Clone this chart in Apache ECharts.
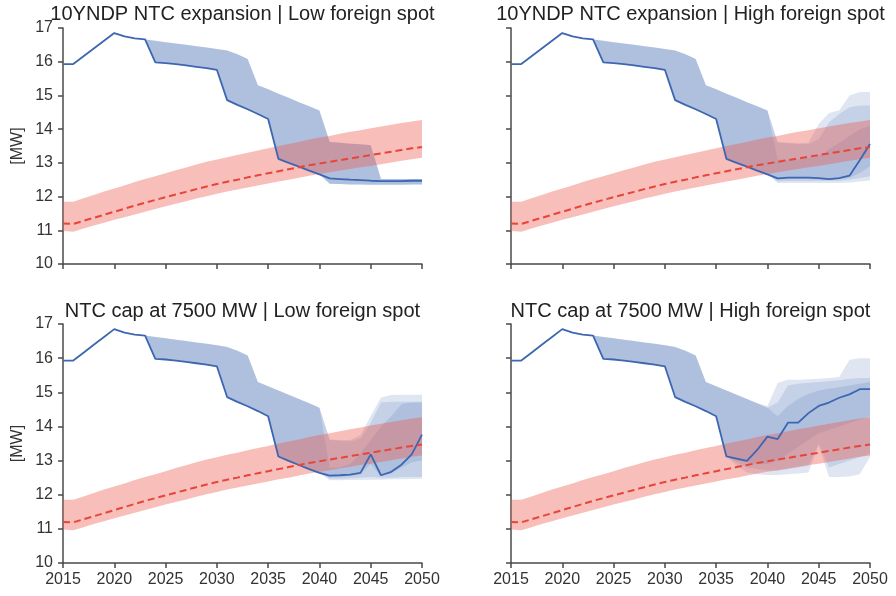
<!DOCTYPE html>
<html>
<head>
<meta charset="utf-8">
<script src="https://cdn.jsdelivr.net/npm/echarts@6/dist/echarts.min.js"></script>
<style>html,body{margin:0;padding:0;background:#fff}#c{width:896px;height:596px}</style>
</head>
<body>
<div id="c"></div>
<script>
// ---------- data ----------
const YEARS = [2015,2016,2017,2018,2019,2020,2021,2022,2023,2024,2025,2026,2027,2028,2029,2030,2031,2032,2033,2034,2035,2036,2037,2038,2039,2040,2041,2042,2043,2044,2045,2046,2047,2048,2049,2050];
const X_TICKS = [2015,2020,2025,2030,2035,2040,2045,2050];
const Y_TICKS = [10,11,12,13,14,15,16,17];
const TITLES = [
  '10YNDP NTC expansion | Low foreign spot',
  '10YNDP NTC expansion | High foreign spot',
  'NTC cap at 7500 MW | Low foreign spot',
  'NTC cap at 7500 MW | High foreign spot'
];

// reference (red) line and band, same in all panels
const RED_MID = [11.20,11.19,11.28,11.37,11.46,11.55,11.64,11.73,11.82,11.90,11.98,12.06,12.14,12.22,12.30,12.37,12.44,12.50,12.57,12.63,12.69,12.75,12.81,12.87,12.93,12.98,13.03,13.08,13.13,13.18,13.23,13.28,13.33,13.38,13.43,13.47];
const RED_UP  = [11.85,11.85,11.95,12.05,12.15,12.24,12.33,12.43,12.52,12.60,12.69,12.78,12.86,12.95,13.03,13.10,13.17,13.23,13.30,13.37,13.43,13.50,13.56,13.62,13.69,13.75,13.80,13.86,13.92,13.97,14.03,14.08,14.13,14.18,14.23,14.27];
const RED_LO  = [10.98,10.96,11.05,11.14,11.22,11.31,11.39,11.47,11.55,11.63,11.71,11.79,11.86,11.94,12.01,12.08,12.15,12.21,12.27,12.33,12.39,12.45,12.50,12.56,12.62,12.67,12.72,12.77,12.82,12.87,12.91,12.96,13.01,13.06,13.11,13.15];

// blue line 2015-2036 (common to all panels)
const BLUE_HEAD = [15.93,15.93,16.16,16.39,16.62,16.85,16.75,16.69,16.66,15.98,15.96,15.93,15.89,15.85,15.81,15.76,14.86,14.72,14.59,14.45,14.30,13.12];
// blue band upper edge 2015-2036 (common)
const BAND_UP_HEAD = [15.93,15.93,16.16,16.39,16.62,16.85,16.75,16.69,16.66,16.62,16.58,16.54,16.50,16.46,16.42,16.38,16.33,16.22,16.08,15.30,15.18,15.05];

// blue line 2037-2050 per panel
const LINE_TL = [13.00,12.89,12.77,12.66,12.54,12.52,12.50,12.49,12.47,12.46,12.46,12.46,12.47,12.47];
const LINE_TR = [13.00,12.89,12.77,12.66,12.54,12.56,12.56,12.56,12.55,12.52,12.55,12.62,13.08,13.56];
const LINE_BL = [12.99,12.87,12.75,12.64,12.56,12.57,12.59,12.64,13.18,12.57,12.67,12.88,13.18,13.76];
const LINE_BR = [13.06,12.99,13.31,13.70,13.63,14.11,14.11,14.39,14.60,14.70,14.84,14.94,15.09,15.09];

// blue band layers 2037-2050 per panel (outer A, middle B, inner C)
const TL_UP_A = [14.93,14.80,14.68,14.55,13.62,13.60,13.57,13.55,13.52,12.52,12.52,12.52,12.52,12.52];
const TL_LO_A = [13.00,12.89,12.77,12.66,12.38,12.37,12.36,12.36,12.35,12.35,12.35,12.35,12.36,12.36];
const TL_UP_B = TL_UP_A, TL_LO_B = TL_LO_A, TL_UP_C = TL_UP_A, TL_LO_C = TL_LO_A;

const TR_UP_A = [14.93,14.80,14.68,14.55,13.62,13.60,13.58,13.60,14.15,14.48,14.56,15.00,15.10,15.10];
const TR_LO_A = [13.00,12.89,12.77,12.66,12.40,12.40,12.40,12.40,12.40,12.40,12.40,12.42,12.45,12.48];
const TR_UP_B = [14.93,14.80,14.68,14.55,13.60,13.58,13.56,13.55,13.70,14.20,14.45,14.65,14.70,14.70];
const TR_LO_B = [13.00,12.89,12.77,12.66,12.45,12.46,12.46,12.46,12.46,12.46,12.47,12.50,12.55,12.60];
const TR_UP_C = [14.93,14.80,14.68,14.55,13.10,13.10,13.10,13.15,13.20,13.40,13.60,13.80,14.00,14.10];
const TR_LO_C = [13.00,12.89,12.77,12.66,12.50,12.52,12.52,12.52,12.51,12.50,12.52,12.56,12.70,12.90];

const BL_UP_A = [14.93,14.80,14.68,14.55,13.62,13.60,13.60,13.75,14.30,14.85,14.92,14.93,14.93,14.93];
const BL_LO_A = [12.99,12.87,12.75,12.64,12.42,12.42,12.43,12.43,12.44,12.44,12.45,12.45,12.46,12.47];
const BL_UP_B = [14.93,14.80,14.68,14.55,13.60,13.58,13.56,13.65,14.10,14.70,14.72,14.72,14.72,14.72];
const BL_LO_B = [12.99,12.87,12.75,12.64,12.47,12.47,12.48,12.50,12.52,12.50,12.50,12.52,12.52,12.52];
const BL_UP_C = [14.93,14.80,14.68,14.55,12.80,12.80,12.90,13.20,13.60,14.00,14.30,14.65,14.70,14.70];
const BL_LO_C = [12.99,12.87,12.75,12.64,12.52,12.53,12.55,12.60,12.90,12.55,12.62,12.80,12.95,13.00];

const BR_UP_A = [14.93,14.80,14.68,14.60,15.27,15.37,15.37,15.38,15.40,15.42,15.45,15.95,16.00,16.00];
const BR_LO_A = [12.85,12.65,12.60,12.58,12.58,12.60,12.62,12.65,13.45,12.52,12.52,12.53,12.60,13.10];
const BR_UP_B = [14.93,14.80,14.68,14.55,14.70,15.20,15.25,15.28,15.30,15.32,15.35,15.40,15.42,15.42];
const BR_LO_B = [12.95,12.80,12.75,12.72,12.70,12.75,12.80,12.85,13.50,12.80,12.90,13.00,13.10,13.20];
const BR_UP_C = [14.93,14.80,14.68,14.55,14.30,14.60,14.80,14.95,15.05,15.10,15.15,15.20,15.25,15.30];
const BR_LO_C = [13.00,12.95,12.90,12.90,13.00,13.20,13.40,13.60,13.80,13.90,14.00,14.10,14.20,14.30];

// ---------- build ----------
const PANELS = [
  {line: LINE_TL, up:[TL_UP_A,TL_UP_B,TL_UP_C], lo:[TL_LO_A,TL_LO_B,TL_LO_C]},
  {line: LINE_TR, up:[TR_UP_A,TR_UP_B,TR_UP_C], lo:[TR_LO_A,TR_LO_B,TR_LO_C]},
  {line: LINE_BL, up:[BL_UP_A,BL_UP_B,BL_UP_C], lo:[BL_LO_A,BL_LO_B,BL_LO_C]},
  {line: LINE_BR, up:[BR_UP_A,BR_UP_B,BR_UP_C], lo:[BR_LO_A,BR_LO_B,BR_LO_C]}
];
const GRIDS = [
  {left: 63, top: 28, width: 359, height: 236},
  {left: 511, top: 28, width: 359, height: 236},
  {left: 63, top: 324, width: 359, height: 239},
  {left: 511, top: 324, width: 359, height: 239}
];
const FONT = '"Liberation Sans", Arial, Helvetica, sans-serif';
const AXIS_COLOR = '#4a4a4a';
const BLUE_FILL = 'rgba(74,111,181,0.175)';
const RED_FILL = 'rgba(234,92,82,0.40)';

const pairs = arr => arr.map((v, i) => [YEARS[i], v]);

// band polygon drawn once through the axis scales (api.coord)
function bandSeries(g, lower, upper, color) {
  const data = YEARS.map((y, i) => [y, lower[i], upper[i]]);
  return {
    type: 'custom', xAxisIndex: g, yAxisIndex: g, silent: true, animation: false,
    data: data,
    encode: {x: 0, y: [1, 2]},
    renderItem: function (params, api) {
      if (params.dataIndex !== 0) return null;
      const top = [], bot = [];
      for (let i = 0; i < data.length; i++) {
        top.push(api.coord([data[i][0], data[i][2]]));
        bot.push(api.coord([data[i][0], data[i][1]]));
      }
      const pts = top.concat(bot.reverse());
      return {type: 'polygon', shape: {points: pts}, style: {fill: color, stroke: null}};
    }
  };
}

const series = [];
const xAxes = [], yAxes = [], titles = [];
PANELS.forEach((p, g) => {
  const line = BLUE_HEAD.concat(p.line);
  for (let j = 0; j < 3; j++) {
    series.push(bandSeries(g, BLUE_HEAD.concat(p.lo[j]), BAND_UP_HEAD.concat(p.up[j]), BLUE_FILL));
  }
  series.push(bandSeries(g, RED_LO, RED_UP, RED_FILL));
  series.push({type: 'line', xAxisIndex: g, yAxisIndex: g, data: pairs(line), symbol: 'none',
    animation: false, lineStyle: {color: '#3d66b2', width: 1.8}, z: 3});
  series.push({type: 'line', xAxisIndex: g, yAxisIndex: g, data: pairs(RED_MID), symbol: 'none',
    animation: false, lineStyle: {color: '#e8453a', width: 2, type: [7, 4]}, z: 4});

  const bottom = g >= 2, left = g % 2 === 0;
  xAxes.push({type: 'value', gridIndex: g, min: X_TICKS[0], max: X_TICKS[X_TICKS.length - 1], interval: 5,
    axisLine: {show: true, onZero: false, lineStyle: {color: AXIS_COLOR, width: 1.5}},
    axisTick: {show: true, length: 5, lineStyle: {color: AXIS_COLOR, width: 1.5}},
    axisLabel: {show: bottom, color: '#333', fontSize: 16, fontFamily: FONT, margin: 9,
      formatter: v => String(v)},
    splitLine: {show: false}});
  yAxes.push({type: 'value', gridIndex: g, min: Y_TICKS[0], max: Y_TICKS[Y_TICKS.length - 1], interval: 1,
    name: left ? '[MW]' : '', nameLocation: 'middle', nameGap: 37, nameRotate: 90,
    nameTextStyle: {color: '#333', fontSize: 16, fontFamily: FONT},
    axisLine: {show: true, lineStyle: {color: AXIS_COLOR, width: 1.5}},
    axisTick: {show: true, length: 5, lineStyle: {color: AXIS_COLOR, width: 1.5}},
    axisLabel: {show: left, color: '#333', fontSize: 16, fontFamily: FONT, margin: 10},
    splitLine: {show: false}});
  titles.push({text: TITLES[g], left: GRIDS[g].left + GRIDS[g].width / 2, textAlign: 'center',
    top: bottom ? 301 : 4, padding: 0,
    textStyle: {color: '#222', fontSize: 20, fontWeight: 'normal', fontFamily: FONT}});
});

const chart = echarts.init(document.getElementById('c'), null, {renderer: 'canvas'});
chart.setOption({
  animation: false,
  backgroundColor: '#fff',
  title: titles,
  grid: GRIDS,
  xAxis: xAxes,
  yAxis: yAxes,
  series: series
});
</script>
</body>
</html>
